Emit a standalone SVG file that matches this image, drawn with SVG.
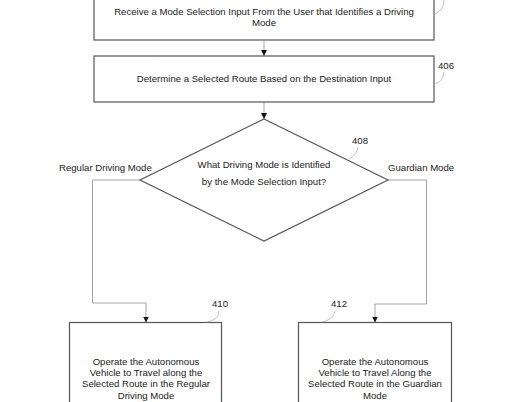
<svg xmlns="http://www.w3.org/2000/svg" width="520" height="402" viewBox="0 0 520 402">
<style>
.box{fill:#fff;stroke:#555;stroke-width:1.2}
.t{font-family:"Liberation Sans",Arial,sans-serif;font-size:9.6px;fill:#222;text-anchor:middle}
.lbl{font-family:"Liberation Sans",Arial,sans-serif;font-size:9.6px;fill:#222}
.c{fill:none;stroke:#999;stroke-width:0.9}
.co{fill:none;stroke:#aaa;stroke-width:0.7}
</style>
<defs>
<marker id="ah" viewBox="0 0 10 10" refX="10" refY="5" markerWidth="6" markerHeight="6" orient="auto" markerUnits="userSpaceOnUse">
<path d="M0,0 L10,5 L0,10 z" fill="#111"/>
</marker>
</defs>
<rect width="520" height="402" fill="#fff"/>
<g id="connectors">
<path class="c" d="M264,40 V56" marker-end="url(#ah)"/>
<path class="c" d="M264,102 V119" marker-end="url(#ah)"/>
<path class="c" d="M140,180 H92.5 V303 H146 V322.5" marker-end="url(#ah)"/>
<path class="c" d="M388,180 H426.5 V304 H375 V322.5" marker-end="url(#ah)"/>
</g>
<g id="n404">
<rect class="box" x="94" y="-10" width="340" height="50"/>
<text class="t" x="264" y="15">Receive a Mode Selection Input From the User that Identifies a Driving</text>
<text class="t" x="264" y="26.2">Mode</text>
<path class="co" d="M434,14 Q443,12 444,0"/>
</g>
<g id="n406">
<rect class="box" x="94" y="56" width="340" height="46"/>
<text class="t" x="264" y="82">Determine a Selected Route Based on the Destination Input</text>
<text class="lbl" x="438" y="69">406</text>
<path class="co" d="M434,84 Q443,82 444,72"/>
</g>
<g id="n408">
<polygon class="box" points="264,119 388,180 264,241 140,180"/>
<text class="t" x="264" y="168">What Driving Mode is Identified</text>
<text class="t" x="264" y="185">by the Mode Selection Input?</text>
<text class="lbl" x="352" y="144">408</text>
<path class="co" d="M358,147 Q357,155 349,159"/>
<text class="lbl" x="59" y="171">Regular Driving Mode</text>
<text class="lbl" x="388" y="171">Guardian Mode</text>
</g>
<g id="n410">
<rect class="box" x="69.5" y="322.5" width="152" height="90"/>
<text class="t" x="146" y="365">Operate the Autonomous</text>
<text class="t" x="146" y="376.2">Vehicle to Travel along the</text>
<text class="t" x="146" y="387.4">Selected Route in the Regular</text>
<text class="t" x="146" y="398.6">Driving Mode</text>
<text class="lbl" x="212" y="307">410</text>
<path class="co" d="M219,311 Q219,320 207,322"/>
</g>
<g id="n412">
<rect class="box" x="298.5" y="322.5" width="153" height="90"/>
<text class="t" x="375" y="365">Operate the Autonomous</text>
<text class="t" x="375" y="376.2">Vehicle to Travel Along the</text>
<text class="t" x="375" y="387.4">Selected Route in the Guardian</text>
<text class="t" x="375" y="398.6">Mode</text>
<text class="lbl" x="331" y="307">412</text>
<path class="co" d="M335,311 Q333,320 322,322"/>
</g>
</svg>
